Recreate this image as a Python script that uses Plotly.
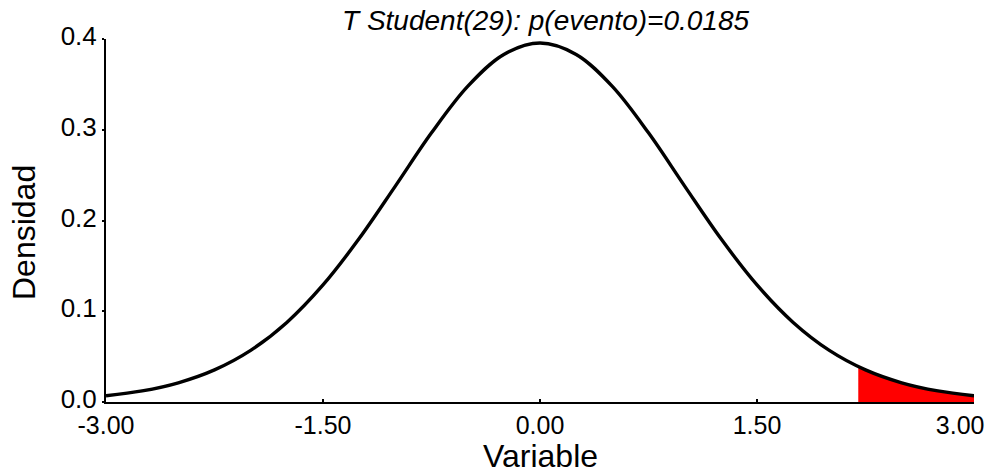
import plotly.graph_objects as go

# Density curve (T Student, 29 df)
x_vals = [-3.0, -2.75, -2.5, -2.25, -2.0, -1.75, -1.5, -1.25, -1.0, -0.75, -0.5, -0.25,
          0.0, 0.25, 0.5, 0.75, 1.0, 1.25, 1.5, 1.75, 2.0, 2.25, 2.5, 2.75, 3.0]
density = [0.0069, 0.0122, 0.0212, 0.0354, 0.0569, 0.0877, 0.1290, 0.1801, 0.2379, 0.2966, 0.3478, 0.3830,
           0.3956, 0.3830, 0.3478, 0.2966, 0.2379, 0.1801, 0.1290, 0.0877, 0.0569, 0.0354, 0.0212, 0.0122, 0.0069]

# Shaded tail (event region)
tail_x = [2.2, 2.25, 2.5, 2.75, 3.0]
tail_y = [0.0391, 0.0354, 0.0212, 0.0122, 0.0069]

x_ticks = [-3.0, -1.5, 0.0, 1.5, 3.0]
x_tick_labels = ["-3.00", "-1.50", "0.00", "1.50", "3.00"]
y_ticks = [0.0, 0.1, 0.2, 0.3, 0.4]
y_tick_labels = ["0.0", "0.1", "0.2", "0.3", "0.4"]

title_text = "T Student(29): p(evento)=0.0185"
x_title = "Variable"
y_title = "Densidad"

FONT = "Liberation Sans, Arial, sans-serif"

# keep last x label inside the canvas, as in the original
x_text_disp = list(x_tick_labels)
x_text_disp[-1] = x_text_disp[-1] + "\u00a0" * 4

fig = go.Figure()
fig.add_trace(go.Scatter(x=tail_x, y=tail_y, mode="lines", fill="tozeroy",
                         fillcolor="#ff0000", line=dict(color="#ff0000", width=0, shape="spline"),
                         hoverinfo="skip", showlegend=False))
fig.add_trace(go.Scatter(x=x_vals, y=density, mode="lines",
                         line=dict(color="black", width=3.4, shape="spline", smoothing=1.0),
                         showlegend=False))

fig.update_layout(
    width=993, height=476,
    margin=dict(l=106, r=19, t=39, b=74, autoexpand=False),
    paper_bgcolor="white", plot_bgcolor="white",
    font=dict(family=FONT, color="black"),
    xaxis=dict(range=[-3, 3], tickmode="array", tickvals=x_ticks, ticktext=x_text_disp,
               showgrid=False, zeroline=False, showline=True, linecolor="black", linewidth=2,
               ticks="inside", ticklen=3, tickwidth=1.5, tickcolor="black",
               ticklabeloverflow="allow",
               tickfont=dict(size=25, family=FONT, color="black")),
    yaxis=dict(range=[0, 0.4], tickmode="array", tickvals=y_ticks, ticktext=y_tick_labels,
               showgrid=False, zeroline=False, showline=True, linecolor="black", linewidth=2,
               ticks="outside", ticklen=2, tickwidth=1.5, tickcolor="black",
               ticklabelshift=-3, ticklabelstandoff=0, ticklabeloverflow="allow",
               tickfont=dict(size=26, family=FONT, color="black")),
    annotations=[
        dict(text=title_text, xref="paper", yref="paper", x=(545 - 106) / 868, y=1,
             yshift=19, xanchor="center", yanchor="middle", showarrow=False,
             font=dict(size=28, family=FONT, color="black", style="italic")),
        dict(text=x_title, xref="paper", yref="paper", x=0.5, y=0, yshift=-54,
             xanchor="center", yanchor="middle", showarrow=False,
             font=dict(size=32, family=FONT, color="black")),
        dict(text=y_title, xref="paper", yref="paper", x=0, xshift=-82, y=(402 - 233) / 363,
             xanchor="center", yanchor="middle", textangle=-90, showarrow=False,
             font=dict(size=32, family=FONT, color="black")),
    ],
)

fig.write_html("out.html")
